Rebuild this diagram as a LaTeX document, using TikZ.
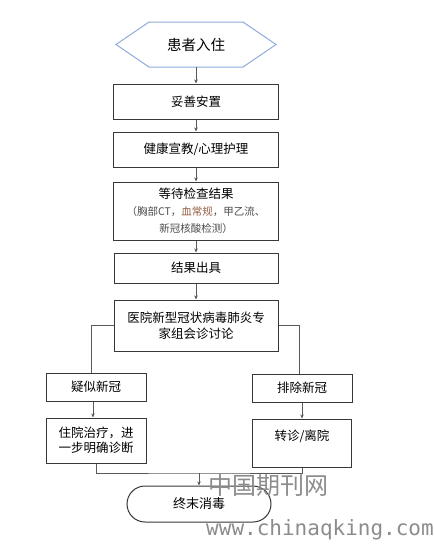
\documentclass[tikz,border=0pt]{standalone}
\usepackage{fontspec}
\setmainfont{Noto Sans CJK SC}
\newfontfamily\wmfont{DejaVu Sans Mono}
\usetikzlibrary{positioning, arrows.meta, calc}
\definecolor{hexblue}{RGB}{143,170,220}
\definecolor{boxline}{RGB}{55,55,55}
\definecolor{wmgray}{RGB}{140,140,140}
\definecolor{notebrown}{RGB}{150,95,70}
\tikzset{
  box/.style={draw=boxline, line width=1pt, rectangle, fill=white, inner sep=0pt, align=center, font=\fontsize{12.5pt}{16pt}\selectfont},
  hexnode/.style={inner sep=0pt, outer sep=0pt, minimum width=94pt, minimum height=45pt, font=\fontsize{14.5pt}{18pt}\selectfont},
  term/.style={draw=boxline, line width=1pt, rounded corners=18pt, fill=white, minimum width=144pt, minimum height=36pt, font=\fontsize{13pt}{16pt}\selectfont},
  conn/.style={draw=black!65, line width=0.9pt},
  arr/.style={conn, -{Stealth[length=4pt,width=3.5pt]}},
  note/.style={font=\fontsize{10.5pt}{17pt}\selectfont, text=black!70}
}

\begin{document}
\begin{tikzpicture}[x=1pt, y=-1pt]
  \useasboundingbox (0,0) rectangle (434,544);

  % Start
  \node[hexnode] (start) at (196,44.5) {患者入住};
  \draw[hexblue, line width=1pt] (start.north west) -- (start.north east) -- ([xshift=33pt]start.east)
    -- (start.south east) -- (start.south west) -- ([xshift=-33pt]start.west) -- cycle;

  % Main column
  \node[box, minimum width=165pt, minimum height=35pt] (settle) at (196,101.5) {妥善安置};
  \node[box, minimum width=165pt, minimum height=35pt] (edu) at (196,149.5) {健康宣教/心理护理};
  \node[box, minimum width=165pt, minimum height=58pt, font=\fontsize{12.5pt}{17pt}\selectfont] (wait) at (196,211)
    {等待检查结果\\{\fontsize{10.5pt}{17pt}\selectfont\color{black!70}（胸部CT，\textcolor{notebrown}{血常规}，甲乙流、}\\{\fontsize{10.5pt}{17pt}\selectfont\color{black!70}新冠核酸检测）}};
  \node[box, minimum width=164pt, minimum height=30pt] (result) at (196,268) {结果出具};
  \node[box, minimum width=164pt, minimum height=51pt] (panel) at (196,325.5) {医院新型冠状病毒肺炎专\\家组会诊讨论};

  % Branches
  \node[box, minimum width=100pt, minimum height=28pt] (suspect) at (96,387) {疑似新冠};
  \node[box, minimum width=100pt, minimum height=28pt] (exclude) at (302,388) {排除新冠};
  \node[box, minimum width=100pt, minimum height=45pt, font=\fontsize{12.5pt}{15pt}\selectfont] (admit) at (96,440.5) {住院治疗，进\\一步明确诊断};
  \node[box, minimum width=99pt, minimum height=48pt, font=\fontsize{12.5pt}{15pt}\selectfont] (transfer) at (302,443) {转诊/离院\\~};

  % End
  \node[term] (disinfect) at (199,504) {终末消毒};
  \coordinate (join) at (199,473);

  % Connectors
  \draw[arr] (start) -- (settle);
  \draw[arr] (settle) -- (edu);
  \draw[arr] (edu) -- (wait);
  \draw[arr] (wait) -- (result);
  \draw[arr] (result) -- (panel);
  \draw[conn] (panel.west) -| ([xshift=-5pt]suspect.north);
  \draw[conn] (panel.east) -| ([xshift=-3pt]exclude.north);
  \draw[arr] ([xshift=-3pt]suspect.south) -- ([xshift=-3pt]admit.north);
  \draw[arr] (exclude) -- (transfer);
  \draw[conn] (admit.south) |- (join) -| (transfer.south);
  \draw[arr] (join) -- (disinfect);

  % Watermark
  \node[text=wmgray, inner sep=0pt, font=\fontsize{24pt}{24pt}\selectfont] (wmcn) at (268,485) {中国期刊网};
  \node[text=wmgray, inner sep=0pt, anchor=base east, font=\wmfont\fontsize{21pt}{21pt}\selectfont] (wmurl) at (434,535) {www.chinaqking.com};
\end{tikzpicture}
\end{document}
